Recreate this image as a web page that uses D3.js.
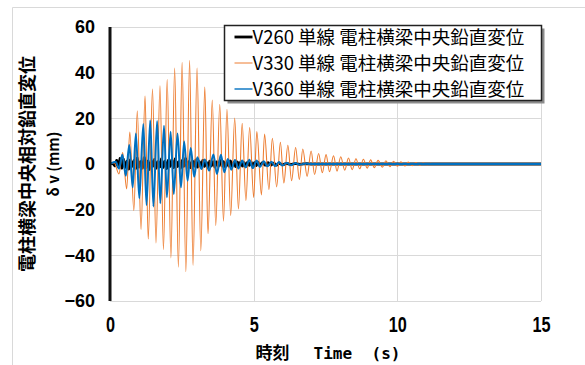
<!DOCTYPE html>
<html>
<head>
<meta charset="utf-8">
<script src="https://cdn.jsdelivr.net/npm/d3@7/dist/d3.min.js"></script>
<style>
    body { margin: 0; background: #fff; }
</style>
</head>
<body>
<div id="chart"></div>
<script>
// turning points of each trace: time (s) / displacement (mm)
const v260Time = [0, 0.10, 0.17, 0.23, 0.29, 0.35, 0.41, 0.47, 0.53, 0.59, 0.65, 0.71, 0.77, 0.83, 0.89,
    0.95, 1.01, 1.07, 1.13, 1.19, 1.25, 1.31, 1.37, 1.43, 1.49, 1.55, 1.61, 1.67, 1.73, 1.79, 1.85,
    1.91, 1.97, 2.03, 2.09, 2.15, 2.21, 2.27, 2.33, 2.39, 2.45, 2.51, 2.57, 2.63, 2.69, 2.75, 2.81,
    2.87, 2.93, 2.99, 3.05, 3.11, 3.17, 3.23, 3.29, 3.35, 3.41, 3.47, 3.53, 3.59, 3.65, 3.71, 3.77,
    3.83, 3.89, 3.95, 4.01, 4.07, 4.13, 4.19, 4.25, 4.31, 4.37, 4.43, 4.49, 4.55, 4.61, 4.67, 4.73,
    4.79, 4.85, 4.91, 4.97, 5.03, 5.09, 5.15, 5.21, 5.30, 5.40, 5.50, 5.60, 5.70, 5.80, 5.90, 6.00,
    6.15, 6.30, 6.45, 6.60, 6.80, 7.00, 15];
const v260Disp = [0, 0.3, -0.8, 1.6, -1.2, 2.4, -1.8, 2.0, -1.5, 1.2, -2.2, 1.8, -1.0, 1.4, -2.0,
    2.6, -1.4, 1.0, -1.8, 2.8, -1.6, 1.2, -2.4, 1.5, -1.0, 2.0, -1.8, 1.0, -1.3, 2.2, -1.5,
    1.2, -2.0, 1.6, -1.0, 1.8, -1.6, 2.2, -1.2, 1.0, -1.8, 1.5, -1.0, 2.4, -1.5, 1.0, -1.6,
    1.3, -1.0, 1.8, -1.4, 1.0, -1.2, 1.6, -1.0, 0.8, -1.5, 1.2, -0.8, 1.0, -1.3, 0.9, -1.0,
    1.5, -0.8, 1.0, -1.2, 0.8, -0.9, 1.3, -1.0, 0.7, -1.1, 0.9, -0.7, 1.0, -0.9, 0.6, -1.0,
    0.8, -0.6, 0.9, -0.8, 0.6, -0.7, 0.8, -0.6, 0.6, -0.5, 0.6, -0.5, 0.4, -0.5, 0.4, -0.4,
    0.3, -0.3, 0.3, -0.2, 0.2, 0, 0];

const v330Time = [0, 0.15, 0.31, 0.44, 0.58, 0.69, 0.83, 0.95, 1.08, 1.22, 1.33, 1.48, 1.60, 1.74,
    1.86, 1.99, 2.12, 2.25, 2.38, 2.51, 2.64, 2.77, 2.89, 3.03, 3.16, 3.30, 3.41, 3.56, 3.68, 3.82,
    3.95, 4.07, 4.20, 4.34, 4.47, 4.60, 4.73, 4.86, 5.00, 5.11, 5.27, 5.38, 5.53, 5.65, 5.80, 5.93,
    6.05, 6.19, 6.32, 6.46, 6.59, 6.71, 6.86, 7.00, 7.12, 7.26, 7.39, 7.52, 7.64, 7.78, 7.90, 8.03,
    8.17, 8.30, 8.43, 8.56, 8.69, 8.82, 8.95, 9.07, 9.20, 9.33, 9.48, 9.60, 9.74, 9.87, 10.00, 10.12,
    10.26, 10.38, 10.52, 10.64, 10.78, 10.90, 11.04, 11.16, 11.30, 11.50, 15];
const v330Disp = [0, 0.5, -4.4, 5.0, -10.9, 14.0, -20.4, 23.3, -28.7, 29.8, -32.8, 32.8, -34.6, 34.2,
    -37.5, 37.0, -41.1, 42.0, -45.2, 44.5, -47.2, 45.4, -44.4, 42.0, -38.0, 33.7, -30.5, 28.0, -27.0, 26.2,
    -25.0, 24.0, -22.6, 20.1, -19.7, 17.8, -16.0, 16.0, -14.6, 14.2, -13.5, 13.1, -11.2, 11.3, -10.0, 9.5,
    -8.3, 8.2, -7.3, 7.2, -6.8, 6.6, -5.4, 5.7, -4.6, 4.6, -3.8, 4.1, -3.4, 3.6, -3.1, 3.2,
    -2.7, 2.6, -2.5, 2.3, -2.1, 2.1, -1.8, 1.8, -1.6, 1.6, -1.4, 1.4, -1.2, 1.2, -1.0, 1.0,
    -0.9, 0.8, -0.7, 0.6, -0.5, 0.4, -0.3, 0.3, -0.2, 0, 0];

const v360Time = [0, 0.20, 0.31, 0.43, 0.55, 0.67, 0.79, 0.90, 1.02, 1.16, 1.27, 1.40, 1.51, 1.64,
    1.75, 1.88, 1.98, 2.11, 2.22, 2.35, 2.47, 2.58, 2.70, 2.81, 2.93, 3.04, 3.18, 3.30, 3.45, 3.60,
    3.72, 3.86, 3.98, 4.10, 4.22, 4.35, 4.47, 4.60, 4.72, 4.85, 4.97, 5.10, 5.22, 5.35, 5.48, 5.62,
    5.75, 5.88, 6.00, 6.15, 6.30, 6.45, 6.60, 6.80, 7.00, 15];
const v360Disp = [0, 1.0, -2.0, 4.0, -5.1, 8.3, -10.2, 13.4, -15.0, 17.5, -18.0, 19.2, -18.6, 18.8,
    -17.2, 16.7, -14.6, 14.1, -13.1, 13.4, -10.2, 9.9, -7.3, 7.0, -5.6, 3.0, -2.2, 2.0, -2.9, 4.2,
    -4.4, 4.0, -3.6, 2.2, -2.5, 1.8, -2.0, 1.5, -1.5, 1.9, -1.8, 1.5, -1.3, 1.2, -1.0, 1.0,
    -0.9, 0.9, -0.7, 0.6, -0.5, 0.4, -0.3, 0.2, 0, 0];

const seriesNames = [
    'V260 単線 電柱横梁中央鉛直変位',
    'V330 単線 電柱横梁中央鉛直変位',
    'V360 単線 電柱横梁中央鉛直変位',
];
const xTicks = [0, 5, 10, 15];
const yTicks = [-60, -40, -20, 0, 20, 40, 60];
const yTitle = '電柱横梁中央相対鉛直変位';
const yUnit = 'δ v (mm)';
const xTitleJa = '時刻';
const xTitleEn = ['Time', '(s)'];

const margin = { top: 27, right: 44, bottom: 64, left: 110 },
    width = 585 - margin.left - margin.right,
    height = 365 - margin.top - margin.bottom;

const jaFont = '"Noto Sans CJK JP", "Noto Sans", sans-serif';
const numFont = '"Liberation Sans", Arial, sans-serif';

// black is drawn first, the blue trace sits on top
const series = [
    { name: seriesNames[0], t: v260Time, v: v260Disp, color: '#000000', lw: 2.8, curve: d3.curveLinear, key: 2.8 },
    { name: seriesNames[1], t: v330Time, v: v330Disp, color: '#ED7D31', lw: 1.1, curve: d3.curveMonotoneX, key: 1 },
    { name: seriesNames[2], t: v360Time, v: v360Disp, color: '#0070C0', lw: 2, curve: d3.curveMonotoneX, key: 1.4 },
];

const svg = d3.select('#chart')
    .append('svg')
    .attr('width', 585)
    .attr('height', 365);

// chart area frame (only the top and left edges fall inside the window)
svg.append('path')
    .attr('d', 'M12.5,365 V7.5 H585')
    .attr('fill', 'none')
    .attr('stroke', '#d9d9d9');

const g = svg.append('g')
    .attr('transform', `translate(${margin.left},${margin.top})`);

const x = d3.scaleLinear().domain([0, 15]).range([0, width]);
const y = d3.scaleLinear().domain([-60, 60]).range([height, 0]);

// gridlines
g.append('g')
    .selectAll('line')
    .data(yTicks)
    .join('line')
    .attr('x1', 0)
    .attr('x2', width)
    .attr('y1', (d) => Math.round(y(d)) + 0.5)
    .attr('y2', (d) => Math.round(y(d)) + 0.5)
    .attr('stroke', '#d9d9d9');
g.append('g')
    .selectAll('line')
    .data(xTicks.filter((d) => d > 0))
    .join('line')
    .attr('x1', (d) => Math.round(x(d)) + 0.5)
    .attr('x2', (d) => Math.round(x(d)) + 0.5)
    .attr('y1', 0)
    .attr('y2', height)
    .attr('stroke', '#d9d9d9');

// tick labels
const yAxis = g.append('g')
    .call(d3.axisLeft(y).tickValues(yTicks).tickSize(0).tickPadding(15));
yAxis.select('.domain').remove();
yAxis.selectAll('text')
    .attr('font-family', numFont)
    .attr('font-weight', 'bold')
    .attr('font-size', 18)
    .attr('fill', '#000');

const xAxis = g.append('g')
    .attr('transform', `translate(0,${height})`)
    .call(d3.axisBottom(x).tickValues(xTicks).tickSize(0).tickPadding(15));
xAxis.select('.domain').remove();
xAxis.selectAll('text')
    .attr('font-family', numFont)
    .attr('font-weight', 'bold')
    .attr('font-size', 22)
    .attr('transform', 'scale(0.74,1)')
    .attr('fill', '#000');

// series
const line = (s) => d3.line()
    .curve(s.curve)
    .x((d) => x(d[0]))
    .y((d) => y(d[1]));

series.forEach((s) => {
    g.append('path')
        .datum(d3.zip(s.t, s.v))
        .attr('fill', 'none')
        .attr('stroke', s.color)
        .attr('stroke-width', s.lw)
        .attr('stroke-linejoin', 'round')
        .attr('d', line(s));
});

// left axis line
g.append('line')
    .attr('x1', 0)
    .attr('x2', 0)
    .attr('y1', 0)
    .attr('y2', height)
    .attr('stroke', '#111')
    .attr('stroke-width', 3);

// legend
const legend = svg.append('g').attr('transform', 'translate(224.5,25.5)');
legend.append('rect')
    .attr('x', 3)
    .attr('y', 3)
    .attr('width', 317)
    .attr('height', 75)
    .attr('fill', '#8c8c8c');
legend.append('rect')
    .attr('width', 317)
    .attr('height', 75)
    .attr('fill', '#fff')
    .attr('stroke', '#222')
    .attr('stroke-width', 1.5);
const rows = legend.selectAll('.row')
    .data(series)
    .join('g')
    .attr('class', 'row')
    .attr('transform', (d, i) => `translate(0,${11.5 + i * 26})`);
rows.append('line')
    .attr('x1', 10)
    .attr('x2', 28)
    .attr('stroke', (d) => d.color)
    .attr('stroke-width', (d) => d.key);
rows.append('text')
    .attr('x', 28)
    .attr('dy', '0.36em')
    .attr('font-family', jaFont)
    .attr('font-size', 18.5)
    .attr('fill', '#000')
    .text((d) => d.name);

// y title, two rotated lines
svg.append('text')
    .attr('transform', `translate(28,${margin.top + height / 2}) rotate(-90)`)
    .attr('text-anchor', 'middle')
    .attr('dy', '0.36em')
    .attr('font-family', jaFont)
    .attr('font-weight', 'bold')
    .attr('font-size', 18)
    .text(yTitle);
svg.append('text')
    .attr('transform', `translate(54,${margin.top + height / 2}) rotate(-90)`)
    .attr('text-anchor', 'middle')
    .attr('dy', '0.36em')
    .attr('font-family', jaFont)
    .attr('font-weight', 'bold')
    .attr('font-size', 15)
    .text(yUnit);

// x title
const cx = margin.left + width / 2;
const xt = svg.append('text')
    .attr('y', 359)
    .attr('font-weight', 'bold')
    .attr('fill', '#000');
xt.append('tspan')
    .attr('x', cx - 70)
    .attr('font-family', jaFont)
    .attr('font-size', 17)
    .text(xTitleJa);
xt.append('tspan')
    .attr('x', cx - 12)
    .attr('font-family', '"DejaVu Sans Mono", monospace')
    .attr('font-size', 16)
    .text(xTitleEn[0]);
xt.append('tspan')
    .attr('x', cx + 46)
    .attr('font-family', '"DejaVu Sans Mono", monospace')
    .attr('font-size', 16)
    .text(xTitleEn[1]);
</script>
</body>
</html>
